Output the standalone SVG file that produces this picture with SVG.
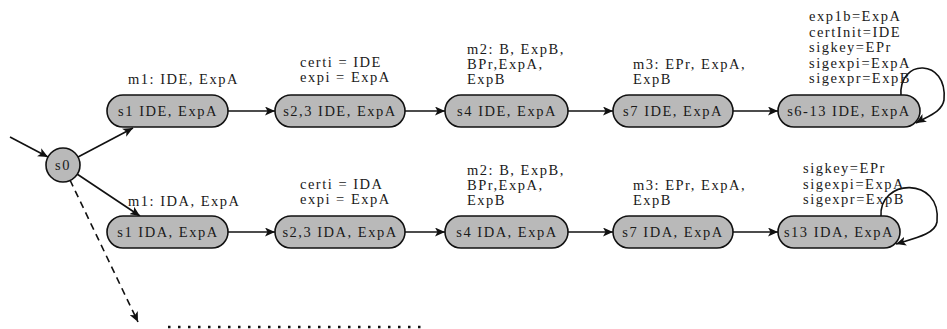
<svg xmlns="http://www.w3.org/2000/svg" width="947" height="329" viewBox="0 0 947 329">
<defs>
<marker id="ah" markerUnits="userSpaceOnUse" markerWidth="11" markerHeight="9" refX="10" refY="4.5" orient="auto">
<path d="M0,0 L10,4.5 L0,9 L2.5,4.5 z" fill="#111"/>
</marker>
<style>
.n{fill:#b9b9b9;stroke:#111;stroke-width:1.6}
.t{font-family:"Liberation Serif","Times New Roman",serif;font-size:14.5px;letter-spacing:1.5px;fill:#1a1a1a}
.c{text-anchor:middle}
.e{stroke:#111;stroke-width:1.6;fill:none;marker-end:url(#ah)}
.d{stroke-dasharray:7 5}
</style>
</defs>
<rect width="947" height="329" fill="#fff"/>
<g id="connectors">
<line class="e" x1="10" y1="137" x2="48" y2="157"/>
<line class="e" x1="78" y1="157" x2="133" y2="128"/>
<line class="e" x1="77" y1="174" x2="140" y2="216"/>
<line class="e d" x1="70" y1="180" x2="138" y2="322"/>
<line class="e" x1="228" y1="111" x2="275" y2="111"/>
<line class="e" x1="405" y1="111" x2="445" y2="111"/>
<line class="e" x1="568" y1="111" x2="613" y2="111"/>
<line class="e" x1="733" y1="111" x2="778" y2="111"/>
<path class="e" d="M901 96 C898 58 948 58 944 100 C942 112 928 116 916 123"/>
<line class="e" x1="228" y1="232" x2="275" y2="232"/>
<line class="e" x1="405" y1="232" x2="445" y2="232"/>
<line class="e" x1="568" y1="232" x2="613" y2="232"/>
<line class="e" x1="733" y1="232" x2="778" y2="232"/>
<path class="e" d="M881 217 C878 178 942 176 937 222 C935 234 916 238 896 244"/>
</g>
<line x1="168" y1="327" x2="428" y2="327" stroke="#111" stroke-width="2.5" stroke-dasharray="2.5 7.5"/>
<g id="s0"><circle class="n" cx="63" cy="165" r="17"/><text class="t c" x="63" y="170">s0</text></g>
<g id="s1-IDE"><rect class="n" x="107" y="95" width="121" height="32" rx="16"/><text class="t c" x="168" y="116">s1 IDE, ExpA</text></g>
<g id="s23-IDE"><rect class="n" x="275" y="95" width="130" height="32" rx="16"/><text class="t c" x="340" y="116">s2,3 IDE, ExpA</text></g>
<g id="s4-IDE"><rect class="n" x="445" y="95" width="123" height="32" rx="16"/><text class="t c" x="507" y="116">s4 IDE, ExpA</text></g>
<g id="s7-IDE"><rect class="n" x="613" y="95" width="120" height="32" rx="16"/><text class="t c" x="673" y="116">s7 IDE, ExpA</text></g>
<g id="s613-IDE"><rect class="n" x="778" y="95" width="142" height="32" rx="16"/><text class="t c" x="849" y="116">s6-13 IDE, ExpA</text></g>
<g id="s1-IDA"><rect class="n" x="107" y="216" width="121" height="32" rx="16"/><text class="t c" x="168" y="237">s1 IDA, ExpA</text></g>
<g id="s23-IDA"><rect class="n" x="275" y="216" width="130" height="32" rx="16"/><text class="t c" x="340" y="237">s2,3 IDA, ExpA</text></g>
<g id="s4-IDA"><rect class="n" x="445" y="216" width="123" height="32" rx="16"/><text class="t c" x="507" y="237">s4 IDA, ExpA</text></g>
<g id="s7-IDA"><rect class="n" x="613" y="216" width="120" height="32" rx="16"/><text class="t c" x="673" y="237">s7 IDA, ExpA</text></g>
<g id="s13-IDA"><rect class="n" x="778" y="216" width="122" height="32" rx="16"/><text class="t c" x="839" y="237">s13 IDA, ExpA</text></g>
<g id="labels">
<text class="t" x="128" y="84">m1:  IDE, ExpA</text>
<text class="t" x="300" y="67">certi = IDE</text>
<text class="t" x="300" y="82">expi = ExpA</text>
<text class="t" x="467" y="54">m2:  B, ExpB,</text>
<text class="t" x="467" y="69">BPr,ExpA,</text>
<text class="t" x="467" y="84">ExpB</text>
<text class="t" x="633" y="69">m3:  EPr, ExpA,</text>
<text class="t" x="633" y="84">ExpB</text>
<text class="t" x="809" y="21">exp1b=ExpA</text>
<text class="t" x="809" y="36.5">certInit=IDE</text>
<text class="t" x="809" y="52">sigkey=EPr</text>
<text class="t" x="809" y="67.5">sigexpi=ExpA</text>
<text class="t" x="809" y="83">sigexpr=ExpB</text>
<text class="t" x="128" y="206">m1:  IDA, ExpA</text>
<text class="t" x="300" y="189">certi = IDA</text>
<text class="t" x="300" y="204">expi = ExpA</text>
<text class="t" x="467" y="175">m2:  B, ExpB,</text>
<text class="t" x="467" y="190">BPr,ExpA,</text>
<text class="t" x="467" y="205">ExpB</text>
<text class="t" x="633" y="190">m3:  EPr, ExpA,</text>
<text class="t" x="633" y="205">ExpB</text>
<text class="t" x="803" y="173">sigkey=EPr</text>
<text class="t" x="803" y="188.5">sigexpi=ExpA</text>
<text class="t" x="803" y="204">sigexpr=ExpB</text>
</g>
</svg>
